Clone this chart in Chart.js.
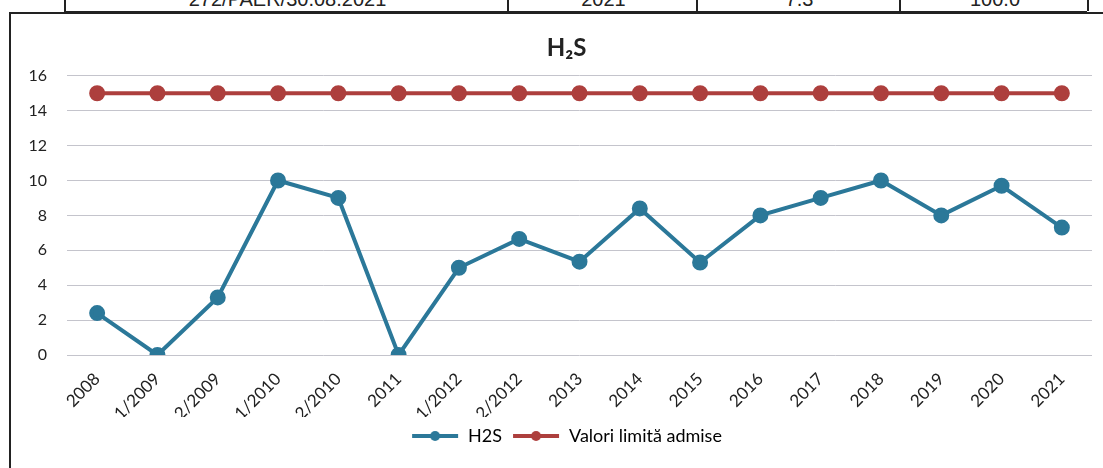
<!DOCTYPE html>
<html>
<head>
<meta charset="utf-8">
<script src="https://cdn.jsdelivr.net/npm/chart.js@4.4.1/dist/chart.umd.min.js"></script>
<style>
  html, body { margin: 0; padding: 0; background: #fff; overflow: hidden; }
  body { width: 1103px; height: 468px; position: relative; font-family: "Liberation Sans", Arial, sans-serif; }
  .row { position: absolute; left: 64px; top: 0; width: 1023px; height: 11px; border-bottom: 2px solid #222; }
  .cell { position: absolute; top: 0; height: 11px; border-left: 2px solid #222; overflow: hidden; }
  .cell span { position: absolute; left: 0; right: 0; top: -11px; text-align: center; font-size: 20px; line-height: 20px; color: #222; }
  .box { position: absolute; left: 9px; top: 12px; width: 1110px; height: 470px; border-left: 2px solid #222; border-top: 2px solid #222; }
  #wrap { position: absolute; left: 11px; top: 14px; width: 1110px; height: 454px; }
</style>
</head>
<body>
<div class="row">
  <div class="cell" style="left:0;width:443px"><span>272/PAER/30.08.2021</span></div>
  <div class="cell" style="left:443px;width:189px"><span>2021</span></div>
  <div class="cell" style="left:632px;width:203px"><span>7.3</span></div>
  <div class="cell" style="left:835px;width:188px"><span>100.0</span></div>
  <div class="cell" style="left:1023px;width:20px"></div>
</div>
<div class="box"></div>
<div id="wrap"><canvas id="h2sChart"></canvas></div>
<script>
// date grafic H2S
const categorii = ["2008", "1/2009", "2/2009", "1/2010", "2/2010", "2011", "1/2012", "2/2012",
  "2013", "2014", "2015", "2016", "2017", "2018", "2019", "2020", "2021"];
const valoriH2S = [2.4, 0, 3.3, 10, 9, 0, 5, 6.65, 5.35, 8.4, 5.3, 8, 9, 10, 8, 9.7, 7.3];
const valoriLimita = [15, 15, 15, 15, 15, 15, 15, 15, 15, 15, 15, 15, 15, 15, 15, 15, 15];
const ticksY = [0, 2, 4, 6, 8, 10, 12, 14, 16];

const albastru = "#2b7899";
const rosu = "#ad3f3d";

// simbol legenda: linie cu punct (putin mai lat decat caseta, ca textul sa stea aproape)
function simbolLegenda(culoare) {
  const c = document.createElement("canvas");
  c.width = 56; c.height = 14;
  const g = c.getContext("2d");
  g.strokeStyle = culoare; g.lineWidth = 4;
  g.beginPath(); g.moveTo(5, 7); g.lineTo(51, 7); g.stroke();
  g.fillStyle = culoare;
  g.beginPath(); g.arc(28, 7, 5, 0, Math.PI * 2); g.fill();
  return c;
}

// titlul si legenda sunt centrate pe tot chenarul, nu doar pe zona graficului
const deplasare = {
  id: "deplasare",
  afterLayout(ch) {
    const dx = 15;
    ch.titleBlock.left += dx; ch.titleBlock.right += dx;
    ch.legend.left += dx; ch.legend.right += dx;
  }
};

Chart.defaults.font.family = "Lato, 'Open Sans', sans-serif";
Chart.defaults.color = "#222";

const ctx = document.getElementById("h2sChart").getContext("2d");
const chart = new Chart(ctx, {
  type: "line",
  data: {
    labels: categorii,
    datasets: [
      {
        label: "H2S",
        data: valoriH2S,
        borderColor: albastru,
        backgroundColor: albastru,
        borderWidth: 4,
        pointRadius: 6,
        tension: 0
      },
      {
        label: "Valori limită admise",
        data: valoriLimita,
        borderColor: rosu,
        backgroundColor: rosu,
        borderWidth: 4,
        pointRadius: 6,
        tension: 0
      }
    ]
  },
  plugins: [deplasare],
  options: {
    responsive: true,
    maintainAspectRatio: false,
    animation: false,
    layout: { padding: { left: 0, right: 29, top: 0, bottom: 13 } },
    plugins: {
      title: {
        display: true,
        text: "H₂S",
        color: "#222",
        font: { size: 24, weight: "bold" },
        padding: { top: 20, bottom: 13 }
      },
      legend: {
        position: "bottom",
        labels: {
          usePointStyle: true,
          pointStyleWidth: 48,
          padding: 10,
          font: { size: 18 },
          color: "#222",
          generateLabels: (ch) => ch.data.datasets.map((ds, i) => ({
            text: ds.label,
            pointStyle: simbolLegenda(ds.borderColor),
            fillStyle: ds.borderColor,
            strokeStyle: ds.borderColor,
            lineWidth: 0,
            hidden: false,
            datasetIndex: i
          }))
        }
      },
      tooltip: { enabled: false }
    },
    scales: {
      x: {
        offset: true,
        grid: { display: false },
        border: { display: false },
        ticks: { minRotation: 45, maxRotation: 45, padding: 6, font: { size: 17 }, color: "#222" },
        afterFit: (s) => { s.height = 62; }
      },
      y: {
        min: 0,
        max: 16,
        afterBuildTicks: (s) => { s.ticks = ticksY.map(v => ({ value: v })); },
        grid: { color: "#c4c4cc", lineWidth: 1, drawTicks: false },
        border: { display: false },
        ticks: { padding: 20, font: { size: 16 }, color: "#222" },
        afterFit: (s) => { s.width = 56; }
      }
    }
  }
});
</script>
</body>
</html>
